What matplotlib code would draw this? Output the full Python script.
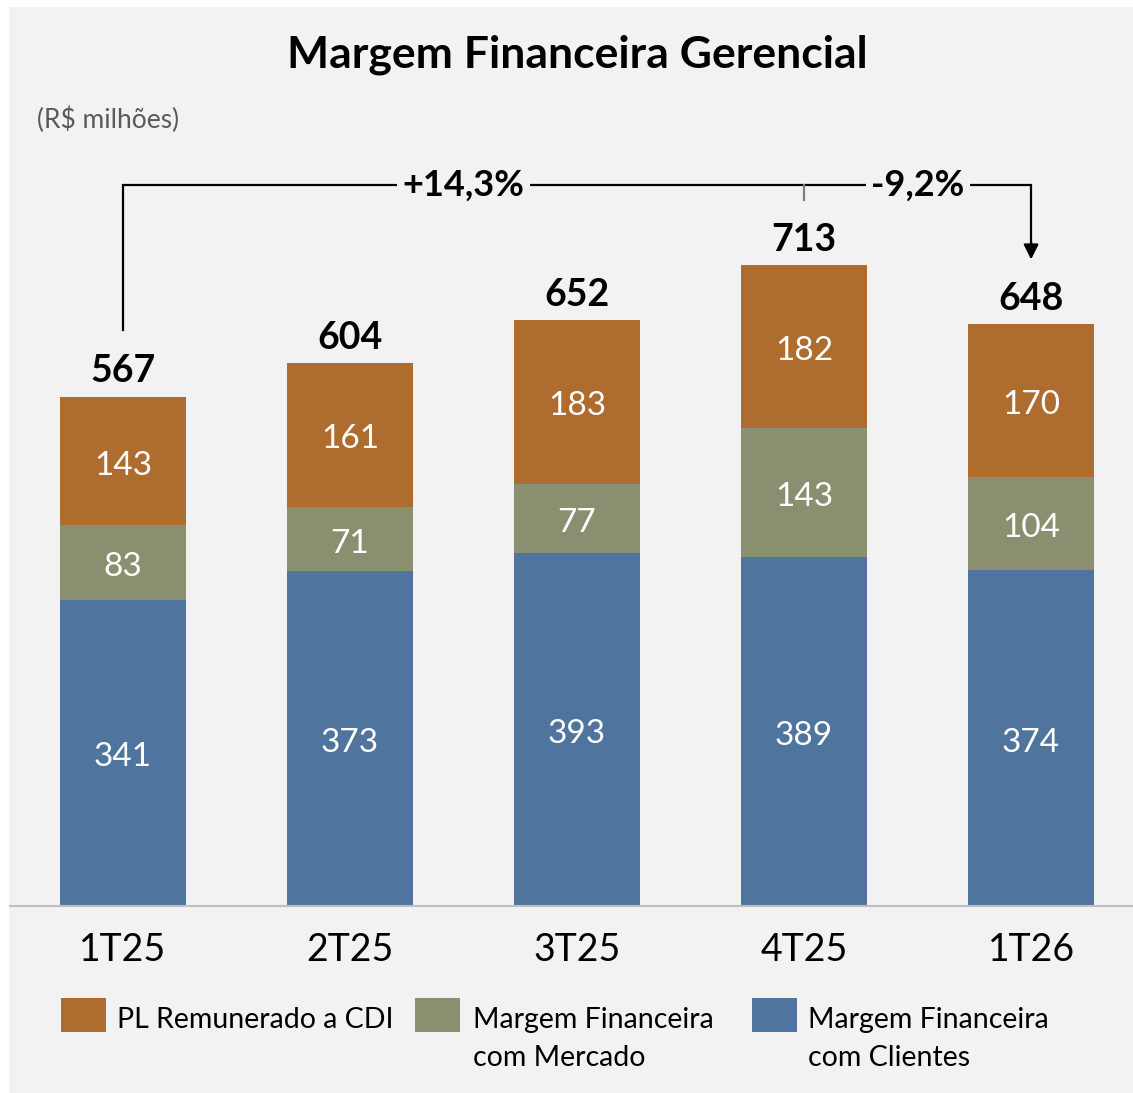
import matplotlib
matplotlib.use("Agg")
import matplotlib.pyplot as plt
from matplotlib.patches import Rectangle

plt.rcParams['font.family'] = ['Lato', 'DejaVu Sans']

# data
quarters = ["1T25", "2T25", "3T25", "4T25", "1T26"]
clientes = [341, 373, 393, 389, 374]
mercado = [83, 71, 77, 143, 104]
pl_cdi = [143, 161, 183, 182, 170]
totals = [567, 604, 652, 713, 648]
growth_labels = ["+14,3%", "-9,2%"]

series_names = ["PL Remunerado a CDI", "Margem Financeira\ncom Mercado",
                "Margem Financeira\ncom Clientes"]
c_pl = "#AE6C2E"
c_merc = "#8A8F6F"
c_cli = "#4F749D"
bg = "#F2F2F2"

W, H = 1133, 1093
fig = plt.figure(figsize=(W / 100, H / 100), dpi=100)
fig.patch.set_facecolor("white")
fig.patches.append(Rectangle((9 / W, 0), 1 - 9 / W, 1 - 7 / H, transform=fig.transFigure,
                             facecolor=bg, edgecolor="none", zorder=-10))

base_px = 906
ax = fig.add_axes([10 / W, (H - base_px) / H, 1 - 10 / W, (base_px - 8) / H])
ax.set_facecolor("none")
ax.set_ylim(0, 1000)
ax.set_xlim(-0.498, 4.449)

x = list(range(len(quarters)))
bw = 0.555
bottom2 = [a + b for a, b in zip(clientes, mercado)]
ax.bar(x, clientes, bw, color=c_cli, zorder=2)
ax.bar(x, mercado, bw, bottom=clientes, color=c_merc, zorder=2)
ax.bar(x, pl_cdi, bw, bottom=bottom2, color=c_pl, zorder=2)

dy = -5
for i in x:
    ax.text(i, clientes[i] / 2 + dy, str(clientes[i]), ha="center", va="center",
            color="white", fontsize=24, zorder=3)
    ax.text(i, clientes[i] + mercado[i] / 2 + dy, str(mercado[i]), ha="center", va="center",
            color="white", fontsize=24, zorder=3)
    ax.text(i, bottom2[i] + pl_cdi[i] / 2 + dy, str(pl_cdi[i]), ha="center", va="center",
            color="white", fontsize=24, zorder=3)
    ax.text(i, totals[i] + 28.5, str(totals[i]), ha="center", va="center",
            color="black", fontsize=27, fontweight="bold", zorder=3)

# growth bracket
yb = 803
ax.plot([0, 0, 4, 4], [641, yb, yb, 735], color="black", lw=1.6, zorder=1,
        solid_joinstyle="miter")
ax.annotate("", xy=(4, 720), xytext=(4, 740),
            arrowprops=dict(arrowstyle="-|>,head_length=0.9,head_width=0.45",
                            color="black", lw=1.6, shrinkA=0, shrinkB=0))
ax.plot([3, 3], [yb, 786], color="#7F7F7F", lw=1.6, zorder=1)
for xc, lab in zip([1.5, 3.5], growth_labels):
    ax.text(xc, yb, lab, ha="center", va="center", fontsize=26, fontweight="bold",
            bbox=dict(facecolor=bg, edgecolor="none", pad=4), zorder=4)

# axes styling
for s in ["top", "left", "right"]:
    ax.spines[s].set_visible(False)
ax.spines["bottom"].set_color("#BFBFBF")
ax.spines["bottom"].set_linewidth(1.5)
ax.set_yticks([])
ax.set_xticks(x)
ax.set_xticklabels(quarters, fontsize=27)
ax.tick_params(axis="x", length=0, pad=19)

# titles
fig.text(577 / W, 1 - 55 / H, "Margem Financeira Gerencial", ha="center", va="center",
         fontsize=32, fontweight="bold")
fig.text(37 / W, 1 - 120 / H, "(R$ milhões)", ha="left", va="center",
         fontsize=19, color="#595959")

# legend
leg_items = [(61, 117, c_pl), (415, 473, c_merc), (752, 808, c_cli)]
for (px, tx, col), name in zip(leg_items, series_names):
    fig.patches.append(Rectangle((px / W, 1 - 1032 / H), 45 / W, 34 / H,
                                 transform=fig.transFigure, facecolor=col, edgecolor="none"))
    fig.text(tx / W, 1 - 1007 / H, name, ha="left", va="top", fontsize=20.5,
             linespacing=1.55)

fig.savefig("out.png", dpi=100, facecolor=fig.get_facecolor())
